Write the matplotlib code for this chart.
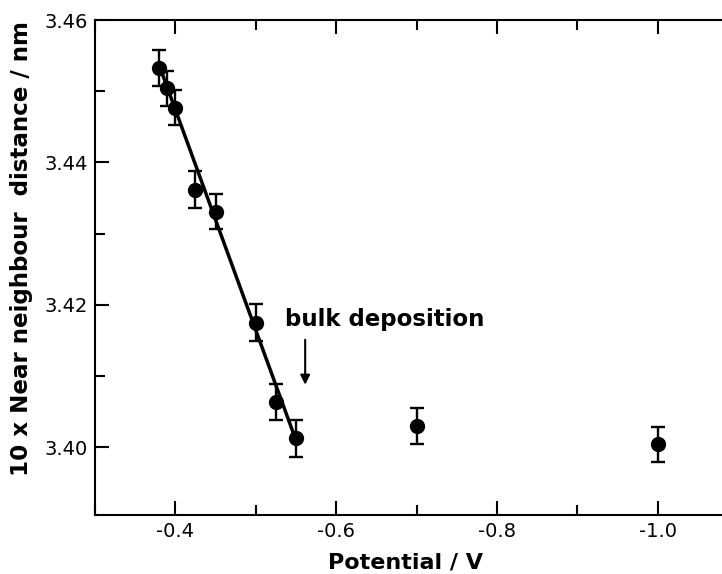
import numpy as np
import matplotlib
matplotlib.use("Agg")
import matplotlib.pyplot as plt
from matplotlib.ticker import MultipleLocator, FormatStrFormatter

# measured points (potential in V, 10 x near neighbour distance in nm)
potential = [-0.38, -0.39, -0.40, -0.425, -0.45, -0.50, -0.525, -0.55, -0.70, -1.00]
distance = [3.4533, 3.4504, 3.4477, 3.4362, 3.4331, 3.4175, 3.4064, 3.4013, 3.4030, 3.4004]
err = [0.0025, 0.0025, 0.0025, 0.0026, 0.0025, 0.0026, 0.0025, 0.0026, 0.0025, 0.0025]

# straight line drawn through the low-potential points
fit_x = [-0.38, -0.55]
fit_y = [3.4536, 3.4010]

plt.rcParams['axes.unicode_minus'] = False
plt.rcParams['font.family'] = ['DejaVu Sans']

fig = plt.figure(figsize=(7.22, 5.74), dpi=100)
ax = fig.add_axes([95 / 722, 59 / 574, 643 / 722, 495 / 574])

ax.plot(fit_x, fit_y, color='black', lw=2.5, zorder=2)
ax.errorbar(potential, distance, yerr=err, fmt='o', color='black',
            ms=10, elinewidth=1.7, capsize=5, capthick=1.7, zorder=3)

ax.set_xlim(-0.3, -1.1)
ax.set_ylim(3.3905, 3.46)

ax.xaxis.set_minor_locator(MultipleLocator(0.1))
ax.yaxis.set_major_locator(MultipleLocator(0.02))
ax.yaxis.set_minor_locator(MultipleLocator(0.01))
ax.set_xticks([-0.4, -0.6, -0.8, -1.0])
ax.xaxis.set_major_formatter(FormatStrFormatter('%.1f'))
ax.yaxis.set_major_formatter(FormatStrFormatter('%.2f'))

ax.tick_params(which='both', direction='in', top=True, right=True, width=1.5,
               labelsize=14, pad=5)
ax.tick_params(which='major', length=10)
ax.tick_params(which='minor', length=7)
for s in ax.spines.values():
    s.set_linewidth(1.5)

fig.text(405 / 722, 1 - 562 / 574, 'Potential / V', ha='center', va='center',
         fontsize=16, fontweight='bold')
fig.text(22 / 722, 1 - 248 / 574, '10 x Near neighbour  distance / nm',
         ha='center', va='center', rotation=90, fontsize=16.6, fontweight='bold')

ax.text(-0.5366, 3.4171, 'bulk deposition', fontsize=16.5, fontweight='bold',
        ha='left', va='baseline')
ax.annotate('', xy=(-0.5615, 3.4084), xytext=(-0.5615, 3.4155),
            arrowprops=dict(arrowstyle='-|>', color='black', lw=1.5,
                            mutation_scale=14))

plt.savefig('out.png', dpi=100)
